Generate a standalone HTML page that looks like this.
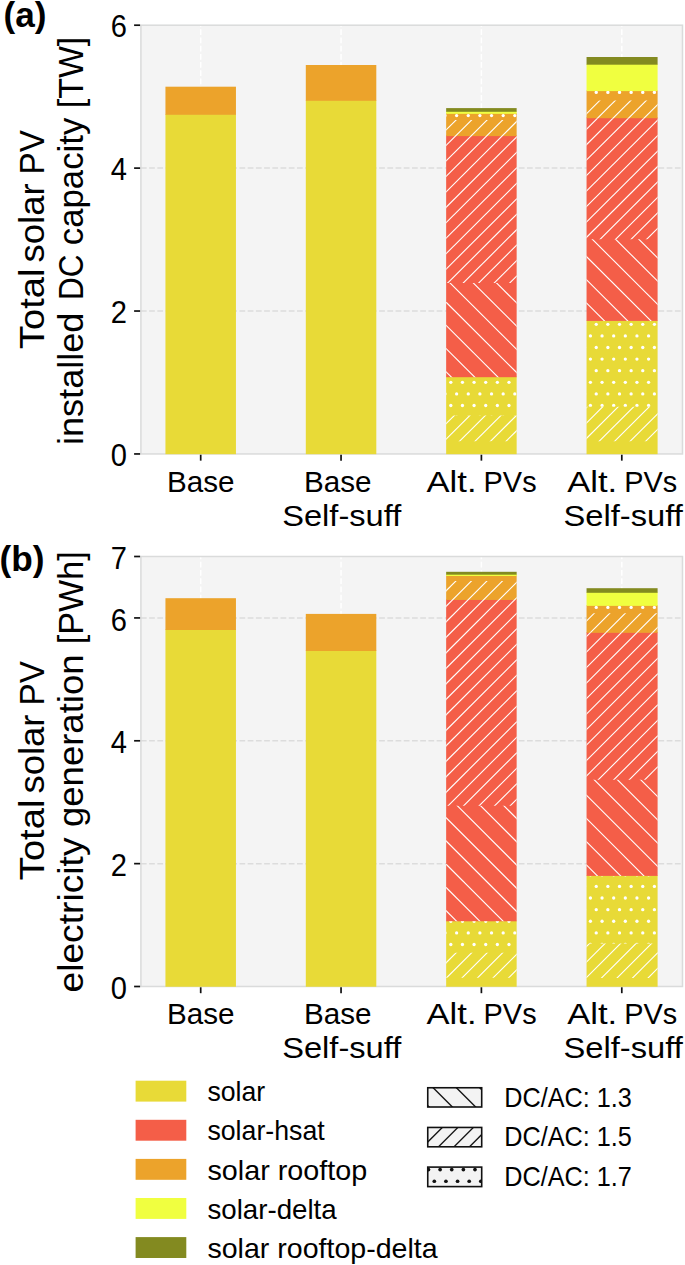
<!DOCTYPE html>
<html><head><meta charset="utf-8"><title>Total solar PV capacity and generation</title>
<style>html,body{margin:0;padding:0;background:#fff}body{width:685px;height:1265px;overflow:hidden;font-family:"Liberation Sans", sans-serif}svg{display:block}</style>
</head><body>
<svg width="685" height="1265" viewBox="0 0 685 1265">
<defs>
<clipPath id="c1"><rect x="446.15" y="415.60" width="70.50" height="25.60"/></clipPath>
<clipPath id="c2"><rect x="446.15" y="377.20" width="70.50" height="38.40"/></clipPath>
<clipPath id="c3"><rect x="446.15" y="283.10" width="70.50" height="94.10"/></clipPath>
<clipPath id="c4"><rect x="446.15" y="136.10" width="70.50" height="147.00"/></clipPath>
<clipPath id="c5"><rect x="446.15" y="120.10" width="70.50" height="16.00"/></clipPath>
<clipPath id="c6"><rect x="446.15" y="113.80" width="70.50" height="6.30"/></clipPath>
<clipPath id="c7"><rect x="586.55" y="406.80" width="71.05" height="34.40"/></clipPath>
<clipPath id="c8"><rect x="586.55" y="320.90" width="71.05" height="85.90"/></clipPath>
<clipPath id="c9"><rect x="586.55" y="239.15" width="71.05" height="81.75"/></clipPath>
<clipPath id="c10"><rect x="586.55" y="118.20" width="71.05" height="120.95"/></clipPath>
<clipPath id="c11"><rect x="586.55" y="100.60" width="71.05" height="17.60"/></clipPath>
<clipPath id="c12"><rect x="586.55" y="91.10" width="71.05" height="9.50"/></clipPath>
<clipPath id="c13"><rect x="446.15" y="952.80" width="70.50" height="25.00"/></clipPath>
<clipPath id="c14"><rect x="446.15" y="921.30" width="70.50" height="31.50"/></clipPath>
<clipPath id="c15"><rect x="446.15" y="805.70" width="70.50" height="115.60"/></clipPath>
<clipPath id="c16"><rect x="446.15" y="599.90" width="70.50" height="205.80"/></clipPath>
<clipPath id="c17"><rect x="446.15" y="581.00" width="70.50" height="18.90"/></clipPath>
<clipPath id="c18"><rect x="446.15" y="576.00" width="70.50" height="5.00"/></clipPath>
<clipPath id="c19"><rect x="586.55" y="943.60" width="71.05" height="34.40"/></clipPath>
<clipPath id="c20"><rect x="586.55" y="875.90" width="71.05" height="67.70"/></clipPath>
<clipPath id="c21"><rect x="586.55" y="779.70" width="71.05" height="96.20"/></clipPath>
<clipPath id="c22"><rect x="586.55" y="632.80" width="71.05" height="146.90"/></clipPath>
<clipPath id="c23"><rect x="586.55" y="613.20" width="71.05" height="19.60"/></clipPath>
<clipPath id="c24"><rect x="586.55" y="605.85" width="71.05" height="7.35"/></clipPath>
<clipPath id="c25"><rect x="427.75" y="1087.75" width="53.95" height="19.25"/></clipPath>
<clipPath id="c26"><rect x="427.75" y="1127.45" width="53.95" height="19.35"/></clipPath>
<clipPath id="c27"><rect x="427.75" y="1167.10" width="53.95" height="19.50"/></clipPath>
</defs>
<rect width="685" height="1265" fill="#ffffff"/>
<g font-family='"Liberation Sans", sans-serif'>
<rect x="140.90" y="25.20" width="541.60" height="428.75" fill="#f4f4f4"/>
<line x1="140.90" y1="311.03" x2="682.50" y2="311.03" stroke="#dcdcdc" stroke-width="1.50" stroke-dasharray="5.735 2.480"/>
<line x1="140.90" y1="168.12" x2="682.50" y2="168.12" stroke="#dcdcdc" stroke-width="1.50" stroke-dasharray="5.735 2.480"/>
<line x1="200.70" y1="453.95" x2="200.70" y2="25.20" stroke="#ffffff" stroke-width="1.50" stroke-dasharray="5.735 2.480"/>
<line x1="341.05" y1="453.95" x2="341.05" y2="25.20" stroke="#ffffff" stroke-width="1.50" stroke-dasharray="5.735 2.480"/>
<line x1="481.40" y1="453.95" x2="481.40" y2="25.20" stroke="#ffffff" stroke-width="1.50" stroke-dasharray="5.735 2.480"/>
<line x1="621.80" y1="453.95" x2="621.80" y2="25.20" stroke="#ffffff" stroke-width="1.50" stroke-dasharray="5.735 2.480"/>
<rect x="140.90" y="25.20" width="541.60" height="428.75" fill="none" stroke="#dadbdb" stroke-width="1.50"/>
<rect x="165.45" y="114.10" width="70.50" height="340.10" fill="#e8da37"/>
<rect x="165.45" y="86.70" width="70.50" height="28.10" fill="#eca32b"/>
<rect x="305.80" y="100.10" width="70.50" height="354.10" fill="#e8da37"/>
<rect x="305.80" y="65.00" width="70.50" height="35.80" fill="#eca32b"/>
<rect x="446.15" y="376.50" width="70.50" height="77.70" fill="#e8da37"/>
<rect x="446.15" y="135.40" width="70.50" height="241.80" fill="#f45e48"/>
<rect x="446.15" y="113.10" width="70.50" height="23.00" fill="#eca32b"/>
<rect x="446.15" y="111.10" width="70.50" height="2.70" fill="#f0ff40"/>
<rect x="446.15" y="108.10" width="70.50" height="3.70" fill="#838a20"/>
<g clip-path="url(#c1)">
<g stroke="#ffffff" stroke-width="1.10">
<line x1="443.15" y1="395.74" x2="519.65" y2="319.49"/>
<line x1="443.15" y1="411.21" x2="519.65" y2="334.95"/>
<line x1="443.15" y1="426.67" x2="519.65" y2="350.41"/>
<line x1="443.15" y1="442.13" x2="519.65" y2="365.87"/>
<line x1="443.15" y1="457.59" x2="519.65" y2="381.34"/>
<line x1="443.15" y1="473.05" x2="519.65" y2="396.80"/>
<line x1="443.15" y1="488.51" x2="519.65" y2="412.26"/>
<line x1="443.15" y1="503.97" x2="519.65" y2="427.72"/>
<line x1="443.15" y1="519.43" x2="519.65" y2="443.18"/>
<line x1="443.15" y1="534.89" x2="519.65" y2="458.64"/>
</g>
</g>
<g clip-path="url(#c2)">
<g fill="#ffffff">
<circle cx="450.82" cy="382.30" r="1.65"/>
<circle cx="462.45" cy="382.30" r="1.65"/>
<circle cx="474.08" cy="382.30" r="1.65"/>
<circle cx="485.72" cy="382.30" r="1.65"/>
<circle cx="497.35" cy="382.30" r="1.65"/>
<circle cx="508.98" cy="382.30" r="1.65"/>
<circle cx="445.00" cy="393.90" r="1.65"/>
<circle cx="456.63" cy="393.90" r="1.65"/>
<circle cx="468.27" cy="393.90" r="1.65"/>
<circle cx="479.90" cy="393.90" r="1.65"/>
<circle cx="491.53" cy="393.90" r="1.65"/>
<circle cx="503.17" cy="393.90" r="1.65"/>
<circle cx="514.80" cy="393.90" r="1.65"/>
<circle cx="450.82" cy="405.50" r="1.65"/>
<circle cx="462.45" cy="405.50" r="1.65"/>
<circle cx="474.08" cy="405.50" r="1.65"/>
<circle cx="485.72" cy="405.50" r="1.65"/>
<circle cx="497.35" cy="405.50" r="1.65"/>
<circle cx="508.98" cy="405.50" r="1.65"/>
<circle cx="445.00" cy="417.09" r="1.65"/>
<circle cx="456.63" cy="417.09" r="1.65"/>
<circle cx="468.27" cy="417.09" r="1.65"/>
<circle cx="479.90" cy="417.09" r="1.65"/>
<circle cx="491.53" cy="417.09" r="1.65"/>
<circle cx="503.17" cy="417.09" r="1.65"/>
<circle cx="514.80" cy="417.09" r="1.65"/>
</g>
</g>
<g clip-path="url(#c3)">
<g stroke="#ffffff" stroke-width="1.10">
<line x1="443.15" y1="415.25" x2="519.65" y2="491.50"/>
<line x1="443.15" y1="392.06" x2="519.65" y2="468.31"/>
<line x1="443.15" y1="368.86" x2="519.65" y2="445.12"/>
<line x1="443.15" y1="345.67" x2="519.65" y2="421.93"/>
<line x1="443.15" y1="322.48" x2="519.65" y2="398.73"/>
<line x1="443.15" y1="299.29" x2="519.65" y2="375.54"/>
<line x1="443.15" y1="276.10" x2="519.65" y2="352.35"/>
<line x1="443.15" y1="252.91" x2="519.65" y2="329.16"/>
<line x1="443.15" y1="229.71" x2="519.65" y2="305.97"/>
<line x1="443.15" y1="206.52" x2="519.65" y2="282.78"/>
<line x1="443.15" y1="183.33" x2="519.65" y2="259.58"/>
</g>
</g>
<g clip-path="url(#c4)">
<g stroke="#ffffff" stroke-width="1.10">
<line x1="443.15" y1="117.44" x2="519.65" y2="41.19"/>
<line x1="443.15" y1="132.91" x2="519.65" y2="56.65"/>
<line x1="443.15" y1="148.37" x2="519.65" y2="72.11"/>
<line x1="443.15" y1="163.83" x2="519.65" y2="87.57"/>
<line x1="443.15" y1="179.29" x2="519.65" y2="103.04"/>
<line x1="443.15" y1="194.75" x2="519.65" y2="118.50"/>
<line x1="443.15" y1="210.21" x2="519.65" y2="133.96"/>
<line x1="443.15" y1="225.67" x2="519.65" y2="149.42"/>
<line x1="443.15" y1="241.13" x2="519.65" y2="164.88"/>
<line x1="443.15" y1="256.59" x2="519.65" y2="180.34"/>
<line x1="443.15" y1="272.06" x2="519.65" y2="195.80"/>
<line x1="443.15" y1="287.52" x2="519.65" y2="211.26"/>
<line x1="443.15" y1="302.98" x2="519.65" y2="226.72"/>
<line x1="443.15" y1="318.44" x2="519.65" y2="242.19"/>
<line x1="443.15" y1="333.90" x2="519.65" y2="257.65"/>
<line x1="443.15" y1="349.36" x2="519.65" y2="273.11"/>
<line x1="443.15" y1="364.82" x2="519.65" y2="288.57"/>
<line x1="443.15" y1="380.28" x2="519.65" y2="304.03"/>
</g>
</g>
<g clip-path="url(#c5)">
<g stroke="#ffffff" stroke-width="1.10">
<line x1="443.15" y1="101.98" x2="519.65" y2="25.73"/>
<line x1="443.15" y1="117.44" x2="519.65" y2="41.19"/>
<line x1="443.15" y1="132.91" x2="519.65" y2="56.65"/>
<line x1="443.15" y1="148.37" x2="519.65" y2="72.11"/>
<line x1="443.15" y1="163.83" x2="519.65" y2="87.57"/>
<line x1="443.15" y1="179.29" x2="519.65" y2="103.04"/>
<line x1="443.15" y1="194.75" x2="519.65" y2="118.50"/>
<line x1="443.15" y1="210.21" x2="519.65" y2="133.96"/>
<line x1="443.15" y1="225.67" x2="519.65" y2="149.42"/>
</g>
</g>
<g clip-path="url(#c6)">
<g fill="#ffffff">
<circle cx="445.00" cy="115.60" r="1.65"/>
<circle cx="456.63" cy="115.60" r="1.65"/>
<circle cx="468.27" cy="115.60" r="1.65"/>
<circle cx="479.90" cy="115.60" r="1.65"/>
<circle cx="491.53" cy="115.60" r="1.65"/>
<circle cx="503.17" cy="115.60" r="1.65"/>
<circle cx="514.80" cy="115.60" r="1.65"/>
</g>
</g>
<rect x="586.55" y="320.20" width="71.05" height="134.00" fill="#e8da37"/>
<rect x="586.55" y="117.50" width="71.05" height="203.40" fill="#f45e48"/>
<rect x="586.55" y="90.40" width="71.05" height="27.80" fill="#eca32b"/>
<rect x="586.55" y="64.00" width="71.05" height="27.10" fill="#f0ff40"/>
<rect x="586.55" y="57.00" width="71.05" height="7.70" fill="#838a20"/>
<g clip-path="url(#c7)">
<g stroke="#ffffff" stroke-width="1.10">
<line x1="583.55" y1="379.49" x2="660.60" y2="302.68"/>
<line x1="583.55" y1="394.95" x2="660.60" y2="318.14"/>
<line x1="583.55" y1="410.41" x2="660.60" y2="333.61"/>
<line x1="583.55" y1="425.87" x2="660.60" y2="349.07"/>
<line x1="583.55" y1="441.33" x2="660.60" y2="364.53"/>
<line x1="583.55" y1="456.79" x2="660.60" y2="379.99"/>
<line x1="583.55" y1="472.25" x2="660.60" y2="395.45"/>
<line x1="583.55" y1="487.71" x2="660.60" y2="410.91"/>
<line x1="583.55" y1="503.17" x2="660.60" y2="426.37"/>
<line x1="583.55" y1="518.64" x2="660.60" y2="441.83"/>
<line x1="583.55" y1="534.10" x2="660.60" y2="457.29"/>
</g>
</g>
<g clip-path="url(#c8)">
<g fill="#ffffff">
<circle cx="584.60" cy="324.32" r="1.65"/>
<circle cx="596.23" cy="324.32" r="1.65"/>
<circle cx="607.87" cy="324.32" r="1.65"/>
<circle cx="619.50" cy="324.32" r="1.65"/>
<circle cx="631.13" cy="324.32" r="1.65"/>
<circle cx="642.77" cy="324.32" r="1.65"/>
<circle cx="654.40" cy="324.32" r="1.65"/>
<circle cx="590.42" cy="335.92" r="1.65"/>
<circle cx="602.05" cy="335.92" r="1.65"/>
<circle cx="613.68" cy="335.92" r="1.65"/>
<circle cx="625.32" cy="335.92" r="1.65"/>
<circle cx="636.95" cy="335.92" r="1.65"/>
<circle cx="648.58" cy="335.92" r="1.65"/>
<circle cx="660.22" cy="335.92" r="1.65"/>
<circle cx="584.60" cy="347.52" r="1.65"/>
<circle cx="596.23" cy="347.52" r="1.65"/>
<circle cx="607.87" cy="347.52" r="1.65"/>
<circle cx="619.50" cy="347.52" r="1.65"/>
<circle cx="631.13" cy="347.52" r="1.65"/>
<circle cx="642.77" cy="347.52" r="1.65"/>
<circle cx="654.40" cy="347.52" r="1.65"/>
<circle cx="590.42" cy="359.11" r="1.65"/>
<circle cx="602.05" cy="359.11" r="1.65"/>
<circle cx="613.68" cy="359.11" r="1.65"/>
<circle cx="625.32" cy="359.11" r="1.65"/>
<circle cx="636.95" cy="359.11" r="1.65"/>
<circle cx="648.58" cy="359.11" r="1.65"/>
<circle cx="660.22" cy="359.11" r="1.65"/>
<circle cx="584.60" cy="370.71" r="1.65"/>
<circle cx="596.23" cy="370.71" r="1.65"/>
<circle cx="607.87" cy="370.71" r="1.65"/>
<circle cx="619.50" cy="370.71" r="1.65"/>
<circle cx="631.13" cy="370.71" r="1.65"/>
<circle cx="642.77" cy="370.71" r="1.65"/>
<circle cx="654.40" cy="370.71" r="1.65"/>
<circle cx="590.42" cy="382.30" r="1.65"/>
<circle cx="602.05" cy="382.30" r="1.65"/>
<circle cx="613.68" cy="382.30" r="1.65"/>
<circle cx="625.32" cy="382.30" r="1.65"/>
<circle cx="636.95" cy="382.30" r="1.65"/>
<circle cx="648.58" cy="382.30" r="1.65"/>
<circle cx="660.22" cy="382.30" r="1.65"/>
<circle cx="584.60" cy="393.90" r="1.65"/>
<circle cx="596.23" cy="393.90" r="1.65"/>
<circle cx="607.87" cy="393.90" r="1.65"/>
<circle cx="619.50" cy="393.90" r="1.65"/>
<circle cx="631.13" cy="393.90" r="1.65"/>
<circle cx="642.77" cy="393.90" r="1.65"/>
<circle cx="654.40" cy="393.90" r="1.65"/>
<circle cx="590.42" cy="405.50" r="1.65"/>
<circle cx="602.05" cy="405.50" r="1.65"/>
<circle cx="613.68" cy="405.50" r="1.65"/>
<circle cx="625.32" cy="405.50" r="1.65"/>
<circle cx="636.95" cy="405.50" r="1.65"/>
<circle cx="648.58" cy="405.50" r="1.65"/>
<circle cx="660.22" cy="405.50" r="1.65"/>
</g>
</g>
<g clip-path="url(#c9)">
<g stroke="#ffffff" stroke-width="1.10">
<line x1="583.55" y1="346.47" x2="660.60" y2="423.27"/>
<line x1="583.55" y1="323.28" x2="660.60" y2="400.08"/>
<line x1="583.55" y1="300.09" x2="660.60" y2="376.89"/>
<line x1="583.55" y1="276.90" x2="660.60" y2="353.70"/>
<line x1="583.55" y1="253.70" x2="660.60" y2="330.51"/>
<line x1="583.55" y1="230.51" x2="660.60" y2="307.31"/>
<line x1="583.55" y1="207.32" x2="660.60" y2="284.12"/>
<line x1="583.55" y1="184.13" x2="660.60" y2="260.93"/>
<line x1="583.55" y1="160.94" x2="660.60" y2="237.74"/>
<line x1="583.55" y1="137.75" x2="660.60" y2="214.55"/>
</g>
</g>
<g clip-path="url(#c10)">
<g stroke="#ffffff" stroke-width="1.10">
<line x1="583.55" y1="101.19" x2="660.60" y2="24.38"/>
<line x1="583.55" y1="116.65" x2="660.60" y2="39.84"/>
<line x1="583.55" y1="132.11" x2="660.60" y2="55.31"/>
<line x1="583.55" y1="147.57" x2="660.60" y2="70.77"/>
<line x1="583.55" y1="163.03" x2="660.60" y2="86.23"/>
<line x1="583.55" y1="178.49" x2="660.60" y2="101.69"/>
<line x1="583.55" y1="193.95" x2="660.60" y2="117.15"/>
<line x1="583.55" y1="209.41" x2="660.60" y2="132.61"/>
<line x1="583.55" y1="224.87" x2="660.60" y2="148.07"/>
<line x1="583.55" y1="240.34" x2="660.60" y2="163.53"/>
<line x1="583.55" y1="255.80" x2="660.60" y2="178.99"/>
<line x1="583.55" y1="271.26" x2="660.60" y2="194.46"/>
<line x1="583.55" y1="286.72" x2="660.60" y2="209.92"/>
<line x1="583.55" y1="302.18" x2="660.60" y2="225.38"/>
<line x1="583.55" y1="317.64" x2="660.60" y2="240.84"/>
<line x1="583.55" y1="333.10" x2="660.60" y2="256.30"/>
</g>
</g>
<g clip-path="url(#c11)">
<g stroke="#ffffff" stroke-width="1.10">
<line x1="583.55" y1="85.72" x2="660.60" y2="8.92"/>
<line x1="583.55" y1="101.19" x2="660.60" y2="24.38"/>
<line x1="583.55" y1="116.65" x2="660.60" y2="39.84"/>
<line x1="583.55" y1="132.11" x2="660.60" y2="55.31"/>
<line x1="583.55" y1="147.57" x2="660.60" y2="70.77"/>
<line x1="583.55" y1="163.03" x2="660.60" y2="86.23"/>
<line x1="583.55" y1="178.49" x2="660.60" y2="101.69"/>
<line x1="583.55" y1="193.95" x2="660.60" y2="117.15"/>
<line x1="583.55" y1="209.41" x2="660.60" y2="132.61"/>
</g>
</g>
<g clip-path="url(#c12)">
<g fill="#ffffff">
<circle cx="584.60" cy="92.41" r="1.65"/>
<circle cx="596.23" cy="92.41" r="1.65"/>
<circle cx="607.87" cy="92.41" r="1.65"/>
<circle cx="619.50" cy="92.41" r="1.65"/>
<circle cx="631.13" cy="92.41" r="1.65"/>
<circle cx="642.77" cy="92.41" r="1.65"/>
<circle cx="654.40" cy="92.41" r="1.65"/>
</g>
</g>
<line x1="134.10" y1="453.95" x2="140.10" y2="453.95" stroke="#111" stroke-width="1.70"/>
<text x="127.00" y="466.05" font-size="31.50" text-anchor="end" textLength="16.2" lengthAdjust="spacingAndGlyphs" fill="#000">0</text>
<line x1="134.10" y1="311.03" x2="140.10" y2="311.03" stroke="#111" stroke-width="1.70"/>
<text x="127.00" y="323.13" font-size="31.50" text-anchor="end" textLength="16.2" lengthAdjust="spacingAndGlyphs" fill="#000">2</text>
<line x1="134.10" y1="168.12" x2="140.10" y2="168.12" stroke="#111" stroke-width="1.70"/>
<text x="127.00" y="180.22" font-size="31.50" text-anchor="end" textLength="16.2" lengthAdjust="spacingAndGlyphs" fill="#000">4</text>
<line x1="134.10" y1="25.20" x2="140.10" y2="25.20" stroke="#111" stroke-width="1.70"/>
<text x="127.00" y="37.30" font-size="31.50" text-anchor="end" textLength="16.2" lengthAdjust="spacingAndGlyphs" fill="#000">6</text>
<line x1="200.70" y1="454.75" x2="200.70" y2="460.65" stroke="#111" stroke-width="1.70"/>
<line x1="341.05" y1="454.75" x2="341.05" y2="460.65" stroke="#111" stroke-width="1.70"/>
<line x1="481.40" y1="454.75" x2="481.40" y2="460.65" stroke="#111" stroke-width="1.70"/>
<line x1="621.80" y1="454.75" x2="621.80" y2="460.65" stroke="#111" stroke-width="1.70"/>
<rect x="140.90" y="556.50" width="541.60" height="430.00" fill="#f4f4f4"/>
<line x1="140.90" y1="863.64" x2="682.50" y2="863.64" stroke="#dcdcdc" stroke-width="1.50" stroke-dasharray="5.735 2.480"/>
<line x1="140.90" y1="740.79" x2="682.50" y2="740.79" stroke="#dcdcdc" stroke-width="1.50" stroke-dasharray="5.735 2.480"/>
<line x1="140.90" y1="617.93" x2="682.50" y2="617.93" stroke="#dcdcdc" stroke-width="1.50" stroke-dasharray="5.735 2.480"/>
<line x1="200.70" y1="986.50" x2="200.70" y2="556.50" stroke="#ffffff" stroke-width="1.50" stroke-dasharray="5.735 2.480"/>
<line x1="341.05" y1="986.50" x2="341.05" y2="556.50" stroke="#ffffff" stroke-width="1.50" stroke-dasharray="5.735 2.480"/>
<line x1="481.40" y1="986.50" x2="481.40" y2="556.50" stroke="#ffffff" stroke-width="1.50" stroke-dasharray="5.735 2.480"/>
<line x1="621.80" y1="986.50" x2="621.80" y2="556.50" stroke="#ffffff" stroke-width="1.50" stroke-dasharray="5.735 2.480"/>
<rect x="140.90" y="556.50" width="541.60" height="430.00" fill="none" stroke="#dadbdb" stroke-width="1.50"/>
<rect x="165.45" y="629.30" width="70.50" height="357.45" fill="#e8da37"/>
<rect x="165.45" y="598.20" width="70.50" height="31.80" fill="#eca32b"/>
<rect x="305.80" y="650.30" width="70.50" height="336.45" fill="#e8da37"/>
<rect x="305.80" y="613.90" width="70.50" height="37.10" fill="#eca32b"/>
<rect x="446.15" y="920.60" width="70.50" height="66.15" fill="#e8da37"/>
<rect x="446.15" y="599.20" width="70.50" height="322.10" fill="#f45e48"/>
<rect x="446.15" y="575.30" width="70.50" height="24.60" fill="#eca32b"/>
<rect x="446.15" y="574.00" width="70.50" height="2.00" fill="#f0ff40"/>
<rect x="446.15" y="571.80" width="70.50" height="2.90" fill="#838a20"/>
<g clip-path="url(#c13)">
<g stroke="#ffffff" stroke-width="1.10">
<line x1="443.15" y1="934.75" x2="519.65" y2="858.30"/>
<line x1="443.15" y1="950.25" x2="519.65" y2="873.80"/>
<line x1="443.15" y1="965.75" x2="519.65" y2="889.30"/>
<line x1="443.15" y1="981.25" x2="519.65" y2="904.80"/>
<line x1="443.15" y1="996.75" x2="519.65" y2="920.30"/>
<line x1="443.15" y1="1012.25" x2="519.65" y2="935.80"/>
<line x1="443.15" y1="1027.75" x2="519.65" y2="951.30"/>
<line x1="443.15" y1="1043.25" x2="519.65" y2="966.80"/>
<line x1="443.15" y1="1058.75" x2="519.65" y2="982.30"/>
<line x1="443.15" y1="1074.25" x2="519.65" y2="997.80"/>
</g>
</g>
<g clip-path="url(#c14)">
<g fill="#ffffff">
<circle cx="450.82" cy="921.27" r="1.65"/>
<circle cx="462.45" cy="921.27" r="1.65"/>
<circle cx="474.08" cy="921.27" r="1.65"/>
<circle cx="485.72" cy="921.27" r="1.65"/>
<circle cx="497.35" cy="921.27" r="1.65"/>
<circle cx="508.98" cy="921.27" r="1.65"/>
<circle cx="445.00" cy="932.90" r="1.65"/>
<circle cx="456.63" cy="932.90" r="1.65"/>
<circle cx="468.27" cy="932.90" r="1.65"/>
<circle cx="479.90" cy="932.90" r="1.65"/>
<circle cx="491.53" cy="932.90" r="1.65"/>
<circle cx="503.17" cy="932.90" r="1.65"/>
<circle cx="514.80" cy="932.90" r="1.65"/>
<circle cx="450.82" cy="944.52" r="1.65"/>
<circle cx="462.45" cy="944.52" r="1.65"/>
<circle cx="474.08" cy="944.52" r="1.65"/>
<circle cx="485.72" cy="944.52" r="1.65"/>
<circle cx="497.35" cy="944.52" r="1.65"/>
<circle cx="508.98" cy="944.52" r="1.65"/>
</g>
</g>
<g clip-path="url(#c15)">
<g stroke="#ffffff" stroke-width="1.10">
<line x1="443.15" y1="954.30" x2="519.65" y2="1030.75"/>
<line x1="443.15" y1="931.05" x2="519.65" y2="1007.50"/>
<line x1="443.15" y1="907.80" x2="519.65" y2="984.25"/>
<line x1="443.15" y1="884.55" x2="519.65" y2="961.00"/>
<line x1="443.15" y1="861.30" x2="519.65" y2="937.75"/>
<line x1="443.15" y1="838.05" x2="519.65" y2="914.50"/>
<line x1="443.15" y1="814.80" x2="519.65" y2="891.25"/>
<line x1="443.15" y1="791.55" x2="519.65" y2="868.00"/>
<line x1="443.15" y1="768.30" x2="519.65" y2="844.75"/>
<line x1="443.15" y1="745.05" x2="519.65" y2="821.50"/>
<line x1="443.15" y1="721.80" x2="519.65" y2="798.25"/>
<line x1="443.15" y1="698.55" x2="519.65" y2="775.00"/>
</g>
</g>
<g clip-path="url(#c16)">
<g stroke="#ffffff" stroke-width="1.10">
<line x1="443.15" y1="578.25" x2="519.65" y2="501.80"/>
<line x1="443.15" y1="593.75" x2="519.65" y2="517.30"/>
<line x1="443.15" y1="609.25" x2="519.65" y2="532.80"/>
<line x1="443.15" y1="624.75" x2="519.65" y2="548.30"/>
<line x1="443.15" y1="640.25" x2="519.65" y2="563.80"/>
<line x1="443.15" y1="655.75" x2="519.65" y2="579.30"/>
<line x1="443.15" y1="671.25" x2="519.65" y2="594.80"/>
<line x1="443.15" y1="686.75" x2="519.65" y2="610.30"/>
<line x1="443.15" y1="702.25" x2="519.65" y2="625.80"/>
<line x1="443.15" y1="717.75" x2="519.65" y2="641.30"/>
<line x1="443.15" y1="733.25" x2="519.65" y2="656.80"/>
<line x1="443.15" y1="748.75" x2="519.65" y2="672.30"/>
<line x1="443.15" y1="764.25" x2="519.65" y2="687.80"/>
<line x1="443.15" y1="779.75" x2="519.65" y2="703.30"/>
<line x1="443.15" y1="795.25" x2="519.65" y2="718.80"/>
<line x1="443.15" y1="810.75" x2="519.65" y2="734.30"/>
<line x1="443.15" y1="826.25" x2="519.65" y2="749.80"/>
<line x1="443.15" y1="841.75" x2="519.65" y2="765.30"/>
<line x1="443.15" y1="857.25" x2="519.65" y2="780.80"/>
<line x1="443.15" y1="872.75" x2="519.65" y2="796.30"/>
<line x1="443.15" y1="888.25" x2="519.65" y2="811.80"/>
<line x1="443.15" y1="903.75" x2="519.65" y2="827.30"/>
</g>
</g>
<g clip-path="url(#c17)">
<g stroke="#ffffff" stroke-width="1.10">
<line x1="443.15" y1="562.75" x2="519.65" y2="486.30"/>
<line x1="443.15" y1="578.25" x2="519.65" y2="501.80"/>
<line x1="443.15" y1="593.75" x2="519.65" y2="517.30"/>
<line x1="443.15" y1="609.25" x2="519.65" y2="532.80"/>
<line x1="443.15" y1="624.75" x2="519.65" y2="548.30"/>
<line x1="443.15" y1="640.25" x2="519.65" y2="563.80"/>
<line x1="443.15" y1="655.75" x2="519.65" y2="579.30"/>
<line x1="443.15" y1="671.25" x2="519.65" y2="594.80"/>
<line x1="443.15" y1="686.75" x2="519.65" y2="610.30"/>
<line x1="443.15" y1="702.25" x2="519.65" y2="625.80"/>
</g>
</g>
<g clip-path="url(#c18)">
<g fill="#ffffff">
</g>
</g>
<rect x="586.55" y="875.20" width="71.05" height="111.55" fill="#e8da37"/>
<rect x="586.55" y="632.10" width="71.05" height="243.80" fill="#f45e48"/>
<rect x="586.55" y="605.15" width="71.05" height="27.65" fill="#eca32b"/>
<rect x="586.55" y="592.10" width="71.05" height="13.75" fill="#f0ff40"/>
<rect x="586.55" y="588.20" width="71.05" height="4.60" fill="#838a20"/>
<g clip-path="url(#c19)">
<g stroke="#ffffff" stroke-width="1.10">
<line x1="583.55" y1="918.45" x2="660.60" y2="841.45"/>
<line x1="583.55" y1="933.95" x2="660.60" y2="856.95"/>
<line x1="583.55" y1="949.45" x2="660.60" y2="872.45"/>
<line x1="583.55" y1="964.95" x2="660.60" y2="887.95"/>
<line x1="583.55" y1="980.45" x2="660.60" y2="903.45"/>
<line x1="583.55" y1="995.95" x2="660.60" y2="918.95"/>
<line x1="583.55" y1="1011.45" x2="660.60" y2="934.45"/>
<line x1="583.55" y1="1026.95" x2="660.60" y2="949.95"/>
<line x1="583.55" y1="1042.45" x2="660.60" y2="965.45"/>
<line x1="583.55" y1="1057.95" x2="660.60" y2="980.95"/>
<line x1="583.55" y1="1073.45" x2="660.60" y2="996.45"/>
</g>
</g>
<g clip-path="url(#c20)">
<g fill="#ffffff">
<circle cx="590.42" cy="874.77" r="1.65"/>
<circle cx="602.05" cy="874.77" r="1.65"/>
<circle cx="613.68" cy="874.77" r="1.65"/>
<circle cx="625.32" cy="874.77" r="1.65"/>
<circle cx="636.95" cy="874.77" r="1.65"/>
<circle cx="648.58" cy="874.77" r="1.65"/>
<circle cx="660.22" cy="874.77" r="1.65"/>
<circle cx="584.60" cy="886.40" r="1.65"/>
<circle cx="596.23" cy="886.40" r="1.65"/>
<circle cx="607.87" cy="886.40" r="1.65"/>
<circle cx="619.50" cy="886.40" r="1.65"/>
<circle cx="631.13" cy="886.40" r="1.65"/>
<circle cx="642.77" cy="886.40" r="1.65"/>
<circle cx="654.40" cy="886.40" r="1.65"/>
<circle cx="590.42" cy="898.02" r="1.65"/>
<circle cx="602.05" cy="898.02" r="1.65"/>
<circle cx="613.68" cy="898.02" r="1.65"/>
<circle cx="625.32" cy="898.02" r="1.65"/>
<circle cx="636.95" cy="898.02" r="1.65"/>
<circle cx="648.58" cy="898.02" r="1.65"/>
<circle cx="660.22" cy="898.02" r="1.65"/>
<circle cx="584.60" cy="909.65" r="1.65"/>
<circle cx="596.23" cy="909.65" r="1.65"/>
<circle cx="607.87" cy="909.65" r="1.65"/>
<circle cx="619.50" cy="909.65" r="1.65"/>
<circle cx="631.13" cy="909.65" r="1.65"/>
<circle cx="642.77" cy="909.65" r="1.65"/>
<circle cx="654.40" cy="909.65" r="1.65"/>
<circle cx="590.42" cy="921.27" r="1.65"/>
<circle cx="602.05" cy="921.27" r="1.65"/>
<circle cx="613.68" cy="921.27" r="1.65"/>
<circle cx="625.32" cy="921.27" r="1.65"/>
<circle cx="636.95" cy="921.27" r="1.65"/>
<circle cx="648.58" cy="921.27" r="1.65"/>
<circle cx="660.22" cy="921.27" r="1.65"/>
<circle cx="584.60" cy="932.90" r="1.65"/>
<circle cx="596.23" cy="932.90" r="1.65"/>
<circle cx="607.87" cy="932.90" r="1.65"/>
<circle cx="619.50" cy="932.90" r="1.65"/>
<circle cx="631.13" cy="932.90" r="1.65"/>
<circle cx="642.77" cy="932.90" r="1.65"/>
<circle cx="654.40" cy="932.90" r="1.65"/>
<circle cx="590.42" cy="944.52" r="1.65"/>
<circle cx="602.05" cy="944.52" r="1.65"/>
<circle cx="613.68" cy="944.52" r="1.65"/>
<circle cx="625.32" cy="944.52" r="1.65"/>
<circle cx="636.95" cy="944.52" r="1.65"/>
<circle cx="648.58" cy="944.52" r="1.65"/>
<circle cx="660.22" cy="944.52" r="1.65"/>
</g>
</g>
<g clip-path="url(#c21)">
<g stroke="#ffffff" stroke-width="1.10">
<line x1="583.55" y1="908.60" x2="660.60" y2="985.60"/>
<line x1="583.55" y1="885.35" x2="660.60" y2="962.35"/>
<line x1="583.55" y1="862.10" x2="660.60" y2="939.10"/>
<line x1="583.55" y1="838.85" x2="660.60" y2="915.85"/>
<line x1="583.55" y1="815.60" x2="660.60" y2="892.60"/>
<line x1="583.55" y1="792.35" x2="660.60" y2="869.35"/>
<line x1="583.55" y1="769.10" x2="660.60" y2="846.10"/>
<line x1="583.55" y1="745.85" x2="660.60" y2="822.85"/>
<line x1="583.55" y1="722.60" x2="660.60" y2="799.60"/>
<line x1="583.55" y1="699.35" x2="660.60" y2="776.35"/>
<line x1="583.55" y1="676.10" x2="660.60" y2="753.10"/>
</g>
</g>
<g clip-path="url(#c22)">
<g stroke="#ffffff" stroke-width="1.10">
<line x1="583.55" y1="608.45" x2="660.60" y2="531.45"/>
<line x1="583.55" y1="623.95" x2="660.60" y2="546.95"/>
<line x1="583.55" y1="639.45" x2="660.60" y2="562.45"/>
<line x1="583.55" y1="654.95" x2="660.60" y2="577.95"/>
<line x1="583.55" y1="670.45" x2="660.60" y2="593.45"/>
<line x1="583.55" y1="685.95" x2="660.60" y2="608.95"/>
<line x1="583.55" y1="701.45" x2="660.60" y2="624.45"/>
<line x1="583.55" y1="716.95" x2="660.60" y2="639.95"/>
<line x1="583.55" y1="732.45" x2="660.60" y2="655.45"/>
<line x1="583.55" y1="747.95" x2="660.60" y2="670.95"/>
<line x1="583.55" y1="763.45" x2="660.60" y2="686.45"/>
<line x1="583.55" y1="778.95" x2="660.60" y2="701.95"/>
<line x1="583.55" y1="794.45" x2="660.60" y2="717.45"/>
<line x1="583.55" y1="809.95" x2="660.60" y2="732.95"/>
<line x1="583.55" y1="825.45" x2="660.60" y2="748.45"/>
<line x1="583.55" y1="840.95" x2="660.60" y2="763.95"/>
<line x1="583.55" y1="856.45" x2="660.60" y2="779.45"/>
<line x1="583.55" y1="871.95" x2="660.60" y2="794.95"/>
</g>
</g>
<g clip-path="url(#c23)">
<g stroke="#ffffff" stroke-width="1.10">
<line x1="583.55" y1="592.95" x2="660.60" y2="515.95"/>
<line x1="583.55" y1="608.45" x2="660.60" y2="531.45"/>
<line x1="583.55" y1="623.95" x2="660.60" y2="546.95"/>
<line x1="583.55" y1="639.45" x2="660.60" y2="562.45"/>
<line x1="583.55" y1="654.95" x2="660.60" y2="577.95"/>
<line x1="583.55" y1="670.45" x2="660.60" y2="593.45"/>
<line x1="583.55" y1="685.95" x2="660.60" y2="608.95"/>
<line x1="583.55" y1="701.45" x2="660.60" y2="624.45"/>
<line x1="583.55" y1="716.95" x2="660.60" y2="639.95"/>
<line x1="583.55" y1="732.45" x2="660.60" y2="655.45"/>
</g>
</g>
<g clip-path="url(#c24)">
<g fill="#ffffff">
<circle cx="584.60" cy="607.40" r="1.65"/>
<circle cx="596.23" cy="607.40" r="1.65"/>
<circle cx="607.87" cy="607.40" r="1.65"/>
<circle cx="619.50" cy="607.40" r="1.65"/>
<circle cx="631.13" cy="607.40" r="1.65"/>
<circle cx="642.77" cy="607.40" r="1.65"/>
<circle cx="654.40" cy="607.40" r="1.65"/>
</g>
</g>
<line x1="134.10" y1="986.50" x2="140.10" y2="986.50" stroke="#111" stroke-width="1.70"/>
<text x="127.00" y="999.10" font-size="31.50" text-anchor="end" textLength="16.2" lengthAdjust="spacingAndGlyphs" fill="#000">0</text>
<line x1="134.10" y1="863.64" x2="140.10" y2="863.64" stroke="#111" stroke-width="1.70"/>
<text x="127.00" y="876.24" font-size="31.50" text-anchor="end" textLength="16.2" lengthAdjust="spacingAndGlyphs" fill="#000">2</text>
<line x1="134.10" y1="740.79" x2="140.10" y2="740.79" stroke="#111" stroke-width="1.70"/>
<text x="127.00" y="753.39" font-size="31.50" text-anchor="end" textLength="16.2" lengthAdjust="spacingAndGlyphs" fill="#000">4</text>
<line x1="134.10" y1="617.93" x2="140.10" y2="617.93" stroke="#111" stroke-width="1.70"/>
<text x="127.00" y="630.53" font-size="31.50" text-anchor="end" textLength="16.2" lengthAdjust="spacingAndGlyphs" fill="#000">6</text>
<line x1="134.10" y1="556.50" x2="140.10" y2="556.50" stroke="#111" stroke-width="1.70"/>
<text x="127.00" y="569.10" font-size="31.50" text-anchor="end" textLength="16.2" lengthAdjust="spacingAndGlyphs" fill="#000">7</text>
<line x1="200.70" y1="987.30" x2="200.70" y2="993.20" stroke="#111" stroke-width="1.70"/>
<line x1="341.05" y1="987.30" x2="341.05" y2="993.20" stroke="#111" stroke-width="1.70"/>
<line x1="481.40" y1="987.30" x2="481.40" y2="993.20" stroke="#111" stroke-width="1.70"/>
<line x1="621.80" y1="987.30" x2="621.80" y2="993.20" stroke="#111" stroke-width="1.70"/>
<text x="200.80" y="491.60" font-size="29.00" text-anchor="middle" textLength="67.5" lengthAdjust="spacingAndGlyphs" fill="#000">Base</text>
<text x="337.75" y="491.60" font-size="29.00" text-anchor="middle" textLength="67.5" lengthAdjust="spacingAndGlyphs" fill="#000">Base</text>
<text x="341.75" y="525.60" font-size="29.00" text-anchor="middle" textLength="119.0" lengthAdjust="spacingAndGlyphs" fill="#000">Self-suff</text>
<text x="451.50" y="491.60" font-size="29.00" text-anchor="middle" textLength="50.0" lengthAdjust="spacingAndGlyphs" fill="#000">Alt.</text>
<text x="510.10" y="491.60" font-size="29.00" text-anchor="middle" textLength="53.0" lengthAdjust="spacingAndGlyphs" fill="#000">PVs</text>
<text x="592.20" y="491.60" font-size="29.00" text-anchor="middle" textLength="50.0" lengthAdjust="spacingAndGlyphs" fill="#000">Alt.</text>
<text x="650.80" y="491.60" font-size="29.00" text-anchor="middle" textLength="53.0" lengthAdjust="spacingAndGlyphs" fill="#000">PVs</text>
<text x="623.10" y="525.60" font-size="29.00" text-anchor="middle" textLength="119.3" lengthAdjust="spacingAndGlyphs" fill="#000">Self-suff</text>
<text x="200.80" y="1023.60" font-size="29.00" text-anchor="middle" textLength="67.5" lengthAdjust="spacingAndGlyphs" fill="#000">Base</text>
<text x="337.75" y="1023.60" font-size="29.00" text-anchor="middle" textLength="67.5" lengthAdjust="spacingAndGlyphs" fill="#000">Base</text>
<text x="341.75" y="1057.60" font-size="29.00" text-anchor="middle" textLength="119.0" lengthAdjust="spacingAndGlyphs" fill="#000">Self-suff</text>
<text x="451.50" y="1023.60" font-size="29.00" text-anchor="middle" textLength="50.0" lengthAdjust="spacingAndGlyphs" fill="#000">Alt.</text>
<text x="510.10" y="1023.60" font-size="29.00" text-anchor="middle" textLength="53.0" lengthAdjust="spacingAndGlyphs" fill="#000">PVs</text>
<text x="592.20" y="1023.60" font-size="29.00" text-anchor="middle" textLength="50.0" lengthAdjust="spacingAndGlyphs" fill="#000">Alt.</text>
<text x="650.80" y="1023.60" font-size="29.00" text-anchor="middle" textLength="53.0" lengthAdjust="spacingAndGlyphs" fill="#000">PVs</text>
<text x="623.10" y="1057.60" font-size="29.00" text-anchor="middle" textLength="119.3" lengthAdjust="spacingAndGlyphs" fill="#000">Self-suff</text>
<text x="83.20" y="378.80" font-size="34.50" text-anchor="middle" textLength="132.5" lengthAdjust="spacingAndGlyphs" transform="rotate(-90 83.20 378.80)" fill="#000">installed</text>
<text x="83.20" y="277.35" font-size="34.50" text-anchor="middle" textLength="45.5" lengthAdjust="spacingAndGlyphs" transform="rotate(-90 83.20 277.35)" fill="#000">DC</text>
<text x="83.20" y="181.40" font-size="34.50" text-anchor="middle" textLength="127.5" lengthAdjust="spacingAndGlyphs" transform="rotate(-90 83.20 181.40)" fill="#000">capacity</text>
<text x="83.20" y="72.45" font-size="34.50" text-anchor="middle" textLength="71.5" lengthAdjust="spacingAndGlyphs" transform="rotate(-90 83.20 72.45)" fill="#000">[TW]</text>
<text x="83.20" y="915.00" font-size="34.50" text-anchor="middle" textLength="155.0" lengthAdjust="spacingAndGlyphs" transform="rotate(-90 83.20 915.00)" fill="#000">electricity</text>
<text x="83.20" y="740.75" font-size="34.50" text-anchor="middle" textLength="172.5" lengthAdjust="spacingAndGlyphs" transform="rotate(-90 83.20 740.75)" fill="#000">generation</text>
<text x="83.20" y="597.85" font-size="34.50" text-anchor="middle" textLength="93.0" lengthAdjust="spacingAndGlyphs" transform="rotate(-90 83.20 597.85)" fill="#000">[PWh]</text>
<text x="44.30" y="308.80" font-size="34.50" text-anchor="middle" textLength="80.5" lengthAdjust="spacingAndGlyphs" transform="rotate(-90 44.30 308.80)" fill="#000">Total</text>
<text x="44.30" y="222.95" font-size="34.50" text-anchor="middle" textLength="79.0" lengthAdjust="spacingAndGlyphs" transform="rotate(-90 44.30 222.95)" fill="#000">solar</text>
<text x="44.30" y="152.25" font-size="34.50" text-anchor="middle" textLength="44.5" lengthAdjust="spacingAndGlyphs" transform="rotate(-90 44.30 152.25)" fill="#000">PV</text>
<text x="44.30" y="839.90" font-size="34.50" text-anchor="middle" textLength="80.5" lengthAdjust="spacingAndGlyphs" transform="rotate(-90 44.30 839.90)" fill="#000">Total</text>
<text x="44.30" y="754.05" font-size="34.50" text-anchor="middle" textLength="79.0" lengthAdjust="spacingAndGlyphs" transform="rotate(-90 44.30 754.05)" fill="#000">solar</text>
<text x="44.30" y="683.35" font-size="34.50" text-anchor="middle" textLength="44.5" lengthAdjust="spacingAndGlyphs" transform="rotate(-90 44.30 683.35)" fill="#000">PV</text>
<text x="3.50" y="27.20" font-size="35.00" text-anchor="start" textLength="43.0" lengthAdjust="spacingAndGlyphs" font-weight="bold" fill="#000">(a)</text>
<text x="-0.50" y="570.50" font-size="35.00" text-anchor="start" textLength="45.0" lengthAdjust="spacingAndGlyphs" font-weight="bold" fill="#000">(b)</text>
<rect x="135.6" y="1080.70" width="50.7" height="20.9" fill="#e8da37"/>
<text x="207.40" y="1101.30" font-size="28.00" text-anchor="start" textLength="57.8" lengthAdjust="spacingAndGlyphs" fill="#000">solar</text>
<rect x="135.6" y="1119.80" width="50.7" height="20.9" fill="#f45e48"/>
<text x="207.40" y="1140.40" font-size="28.00" text-anchor="start" textLength="117.3" lengthAdjust="spacingAndGlyphs" fill="#000">solar-hsat</text>
<rect x="135.6" y="1158.90" width="50.7" height="20.9" fill="#eca32b"/>
<text x="207.40" y="1179.50" font-size="28.00" text-anchor="start" textLength="159.8" lengthAdjust="spacingAndGlyphs" fill="#000">solar rooftop</text>
<rect x="135.6" y="1198.00" width="50.7" height="20.9" fill="#f0ff40"/>
<text x="207.40" y="1218.60" font-size="28.00" text-anchor="start" textLength="129.3" lengthAdjust="spacingAndGlyphs" fill="#000">solar-delta</text>
<rect x="135.6" y="1237.10" width="50.7" height="20.9" fill="#838a20"/>
<text x="207.40" y="1257.70" font-size="28.00" text-anchor="start" textLength="230.3" lengthAdjust="spacingAndGlyphs" fill="#000">solar rooftop-delta</text>
<rect x="427.75" y="1087.75" width="53.95" height="19.25" fill="#f3f3f3"/>
<g clip-path="url(#c25)">
<g stroke="#111" stroke-width="1.35">
<line x1="424.75" y1="1149.10" x2="484.70" y2="1209.05"/>
<line x1="424.75" y1="1125.85" x2="484.70" y2="1185.80"/>
<line x1="424.75" y1="1102.60" x2="484.70" y2="1162.55"/>
<line x1="424.75" y1="1079.35" x2="484.70" y2="1139.30"/>
<line x1="424.75" y1="1056.10" x2="484.70" y2="1116.05"/>
<line x1="424.75" y1="1032.85" x2="484.70" y2="1092.80"/>
<line x1="424.75" y1="1009.60" x2="484.70" y2="1069.55"/>
<line x1="424.75" y1="986.35" x2="484.70" y2="1046.30"/>
</g>
</g>
<rect x="427.75" y="1087.75" width="53.95" height="19.25" fill="none" stroke="#111" stroke-width="1.6"/>
<text x="504.30" y="1106.90" font-size="27.20" text-anchor="start" textLength="127.5" lengthAdjust="spacingAndGlyphs" fill="#000">DC/AC: 1.3</text>
<rect x="427.75" y="1127.45" width="53.95" height="19.35" fill="#f3f3f3"/>
<g clip-path="url(#c26)">
<g stroke="#111" stroke-width="1.35">
<line x1="424.75" y1="1114.05" x2="484.70" y2="1054.10"/>
<line x1="424.75" y1="1129.55" x2="484.70" y2="1069.60"/>
<line x1="424.75" y1="1145.05" x2="484.70" y2="1085.10"/>
<line x1="424.75" y1="1160.55" x2="484.70" y2="1100.60"/>
<line x1="424.75" y1="1176.05" x2="484.70" y2="1116.10"/>
<line x1="424.75" y1="1191.55" x2="484.70" y2="1131.60"/>
<line x1="424.75" y1="1207.05" x2="484.70" y2="1147.10"/>
<line x1="424.75" y1="1222.55" x2="484.70" y2="1162.60"/>
</g>
</g>
<rect x="427.75" y="1127.45" width="53.95" height="19.35" fill="none" stroke="#111" stroke-width="1.6"/>
<text x="504.30" y="1146.30" font-size="27.20" text-anchor="start" textLength="127.5" lengthAdjust="spacingAndGlyphs" fill="#000">DC/AC: 1.5</text>
<rect x="427.75" y="1167.10" width="53.95" height="19.50" fill="#f3f3f3"/>
<g clip-path="url(#c27)">
<g fill="#111">
<circle cx="428.49" cy="1169.62" r="1.85"/>
<circle cx="440.11" cy="1169.62" r="1.85"/>
<circle cx="451.74" cy="1169.62" r="1.85"/>
<circle cx="463.36" cy="1169.62" r="1.85"/>
<circle cx="474.99" cy="1169.62" r="1.85"/>
<circle cx="434.30" cy="1181.25" r="1.85"/>
<circle cx="445.93" cy="1181.25" r="1.85"/>
<circle cx="457.55" cy="1181.25" r="1.85"/>
<circle cx="469.18" cy="1181.25" r="1.85"/>
<circle cx="480.80" cy="1181.25" r="1.85"/>
</g>
</g>
<rect x="427.75" y="1167.10" width="53.95" height="19.50" fill="none" stroke="#111" stroke-width="1.6"/>
<text x="504.30" y="1185.70" font-size="27.20" text-anchor="start" textLength="127.5" lengthAdjust="spacingAndGlyphs" fill="#000">DC/AC: 1.7</text>
</g>
</svg>
</body></html>
